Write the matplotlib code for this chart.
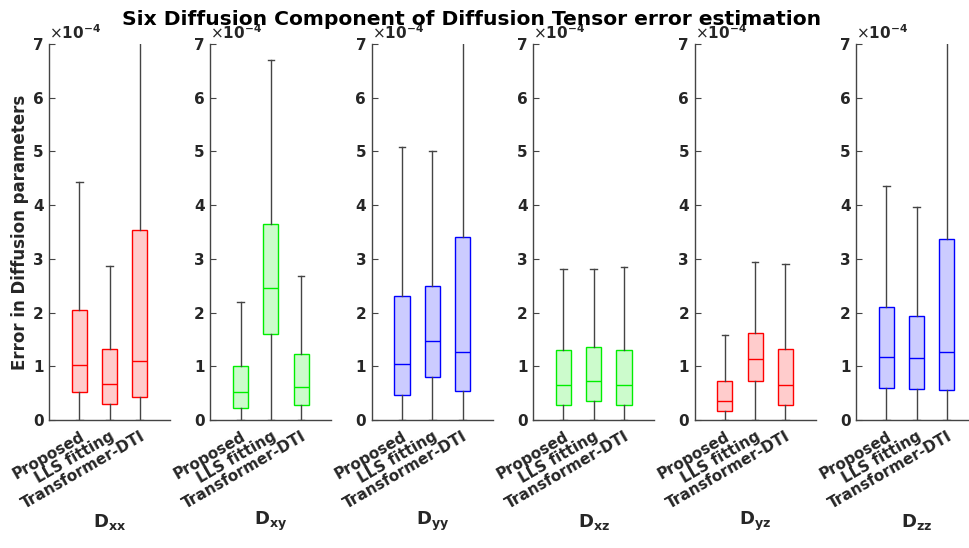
import matplotlib
matplotlib.use("Agg")
import matplotlib.pyplot as plt

methods = ["Proposed", "LLS fitting", "Transformer-DTI"]
components = ["xx", "xy", "yy", "xz", "yz", "zz"]
colors = ["#ff0000", "#00ee00", "#0000ff", "#00ee00", "#ff0000", "#0000ff"]

# values in units of 1e-4: [whislo, q1, median, q3, whishi] per method
Dxx = [[0.0, 0.52, 1.03, 2.05, 4.43], [0.0, 0.30, 0.67, 1.32, 2.87], [0.0, 0.43, 1.10, 3.54, 7.6]]
Dxy = [[0.0, 0.22, 0.52, 1.00, 2.19], [0.0, 1.60, 2.46, 3.64, 6.71], [0.0, 0.28, 0.62, 1.23, 2.68]]
Dyy = [[0.0, 0.47, 1.05, 2.31, 5.08], [0.0, 0.80, 1.47, 2.49, 5.01], [0.0, 0.54, 1.27, 3.41, 7.8]]
Dxz = [[0.0, 0.28, 0.65, 1.30, 2.82], [0.0, 0.36, 0.73, 1.35, 2.82], [0.0, 0.28, 0.65, 1.30, 2.84]]
Dyz = [[0.0, 0.16, 0.36, 0.72, 1.59], [0.0, 0.73, 1.13, 1.62, 2.95], [0.0, 0.28, 0.65, 1.33, 2.90]]
Dzz = [[0.0, 0.60, 1.18, 2.10, 4.36], [0.0, 0.58, 1.15, 1.93, 3.97], [0.0, 0.55, 1.26, 3.37, 7.9]]
all_data = [Dxx, Dxy, Dyy, Dxz, Dyz, Dzz]

txt = "#262626"
fig = plt.figure(figsize=(9.69, 5.48), dpi=100)
left0 = 49 / 969
step = 161.4 / 969
w = 121 / 969
bottom = 1 - 420 / 548
h = (420 - 44) / 548

for i, (comp, col, data) in enumerate(zip(components, colors, all_data)):
    ax = fig.add_axes([left0 + i * step, bottom, w, h])
    stats = []
    for m, d in zip(methods, data):
        stats.append(dict(whislo=d[0], q1=d[1], med=d[2], q3=d[3], whishi=d[4], label=m, fliers=[]))
    ax.bxp(stats, positions=[1, 2, 3], widths=0.5, patch_artist=True, showfliers=False,
           boxprops=dict(facecolor=matplotlib.colors.to_rgba(col, 0.2), edgecolor=col, linewidth=1.0),
           medianprops=dict(color=col, linewidth=1.0),
           whiskerprops=dict(color="#444444", linewidth=1.0),
           capprops=dict(color="#444444", linewidth=1.0), capwidths=0.22)
    ax.set_xlim(0, 4)
    ax.set_ylim(0, 7)
    ax.set_yticks(range(8))
    ax.set_yticklabels([str(v) for v in range(8)], fontsize=11, fontweight="bold", color=txt)
    ax.set_xticks([1, 2, 3])
    ax.set_xticklabels(methods, rotation=30, ha="right", va="top", rotation_mode="anchor",
                       fontsize=11, fontweight="bold", color=txt)
    ax.tick_params(axis="x", length=0, pad=6)
    ax.tick_params(axis="y", direction="in", length=4, color="#444444", pad=4)
    for s in ["top", "right"]:
        ax.spines[s].set_visible(False)
    for s in ["left", "bottom"]:
        ax.spines[s].set_color("#444444")
        ax.spines[s].set_linewidth(1.0)
    ax.text(0.0, 1.005, r"$\times\mathbf{10^{-4}}$", transform=ax.transAxes, fontsize=11,
            color=txt, ha="left", va="bottom")
    ax.text(0.5, -0.27, r"$\mathbf{D_{%s}}$" % comp, transform=ax.transAxes, fontsize=13,
            color=txt, ha="center", va="center")
    if i == 0:
        ax.set_ylabel("Error in Diffusion parameters", fontsize=12, fontweight="bold", color=txt, labelpad=3)

fig.text(472 / 969, 1 - 25 / 548, "Six Diffusion Component of Diffusion Tensor error estimation",
         ha="center", va="baseline", fontsize=14.6, fontweight="bold", color="black")
fig.savefig("out.png", dpi=100)
